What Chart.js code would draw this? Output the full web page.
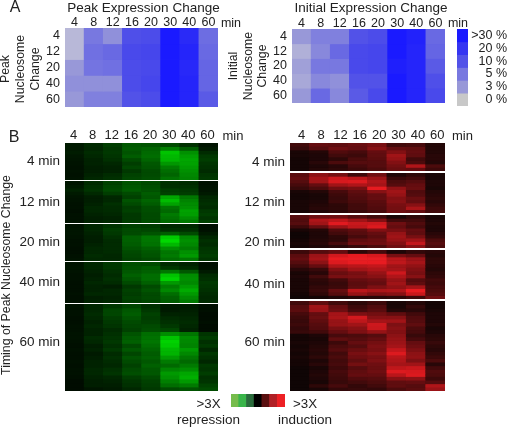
<!DOCTYPE html>
<html>
<head>
<meta charset="utf-8">
<script src="https://cdn.jsdelivr.net/npm/chart.js@4"></script>
<style>
  html, body { margin: 0; padding: 0; background: #fff; width: 507px; height: 427px; overflow: hidden; }
  #page { position: relative; width: 507px; height: 427px; filter: blur(0.35px); }
  canvas { position: absolute; }
  .t { position: absolute; white-space: nowrap; color: #222; font-family: "Liberation Sans", Arial, sans-serif; transform: translate(-50%, -50%); }
  .v { transform: translate(-50%, -50%) rotate(-90deg); }
</style>
</head>
<body>
<div id="page"></div>
<script>
const times = ["4", "8", "12", "16", "20", "30", "40", "60"];
const nucleosomeTimes = ["4", "12", "20", "40", "60"];

// panel A, percent of genes changed
const peakExpression = [
  [1, 5, 3.5, 11, 12, 30, 24, 6.5],
  [1, 6, 7, 13, 14, 30, 26, 7],
  [3, 5.5, 6, 12, 13, 30, 25, 7.5],
  [3.5, 3.5, 3.5, 12, 14, 30, 26, 7.5],
  [3, 4.5, 4.5, 10, 12, 30, 26, 9]
];
const initialExpression = [
  [3, 4.5, 4.5, 10, 12, 30, 27, 7],
  [1.5, 4, 7, 13, 14, 30, 26, 7.5],
  [2.5, 5, 5, 13, 14, 28, 26, 9],
  [2, 4, 3.5, 10, 10, 30, 26, 11],
  [3, 7, 4, 9, 13, 30, 26, 13]
];
const percentLabels = [">30 %", "20 %", "10 %", "5 %", "3 %", "0 %"];
const percentValues = [30, 20, 10, 5, 3, 0];

// panel B, repression strength per gene row (0-100)
const green4 = [
  [8,15,24,36,34,30,18,5],[8,14,22,38,42,55,38,8],[9,16,22,34,44,85,62,16],[7,14,20,38,46,80,68,22],
  [6,12,18,30,42,78,72,24],[5,12,14,24,36,65,70,20],[4,10,12,28,34,52,66,18],[5,10,12,22,30,46,62,16],
  [4,12,16,26,30,42,58,20],[5,14,18,28,32,48,56,22]
];
const green12 = [
  [6,16,26,34,30,18,16,4],[8,18,28,36,32,18,18,5],[12,20,30,38,34,24,22,6],[8,15,24,30,38,26,24,8],
  [6,10,14,26,36,72,50,14],[5,10,14,34,42,82,56,16],[4,12,18,30,38,70,60,18],[4,14,16,24,32,48,62,16],
  [3,14,16,26,32,44,70,22],[4,12,14,22,30,52,68,24],[4,10,12,22,30,48,60,20],[5,12,14,24,32,44,52,26]
];
const green20 = [
  [5,14,20,26,24,14,14,3],[6,14,24,30,28,18,18,4],[6,12,22,30,34,38,30,8],[5,10,18,40,50,88,58,14],
  [4,10,16,40,50,95,62,18],[4,12,16,38,48,80,58,16],[3,14,16,34,40,60,52,20],[3,14,16,30,36,50,62,22],
  [4,16,14,28,34,52,66,24],[5,14,14,26,30,46,50,20]
];
const green40 = [
  [5,14,22,32,30,16,12,3],[6,14,22,34,38,22,16,4],[5,12,18,36,40,50,36,8],[4,10,16,40,46,85,60,16],
  [4,12,18,36,46,92,62,18],[3,14,16,30,40,66,58,22],[3,12,10,22,30,52,66,20],[3,12,14,26,34,58,74,18],
  [4,14,14,24,30,46,66,16],[3,10,12,26,30,40,58,14],[4,12,14,24,28,38,52,16]
];
const green60 = [
  [5,14,22,28,18,8,8,3],[4,14,28,36,22,8,10,3],[4,16,28,38,26,12,12,2],[3,14,24,34,24,16,14,2],
  [3,12,22,30,26,18,16,3],[4,14,20,28,30,22,14,2],[4,12,16,26,32,28,12,2],[5,12,18,34,46,60,50,20],
  [5,16,20,38,48,85,60,24],[4,14,22,40,50,92,58,18],[3,10,18,30,46,88,56,22],[4,12,22,36,42,80,66,14],
  [3,8,16,28,38,78,58,22],[3,10,18,34,40,66,50,18],[4,12,16,30,36,52,44,14],[3,12,14,26,40,44,52,22],
  [4,14,18,30,36,56,60,20],[4,14,20,32,36,66,72,24],[3,12,14,24,30,62,76,18],[2,10,12,20,26,54,66,20],
  [2,10,10,18,24,46,52,26],[2,6,8,14,22,30,34,30]
];

// panel B, induction strength per gene row (0-100)
const red4 = [
  [22,36,34,38,44,22,24,10],[18,30,40,36,50,36,34,10],[6,10,28,24,36,48,36,10],[6,8,22,20,34,60,34,12],
  [4,8,14,26,32,56,22,12],[4,12,26,30,30,48,26,10],[4,8,12,24,30,42,66,26],[4,10,14,20,26,38,36,20]
];
const red12 = [
  [32,52,42,20,40,8,14,6],[36,62,78,72,58,18,22,6],[30,60,82,84,66,26,30,8],[24,36,60,66,62,30,36,8],
  [18,26,40,44,88,54,38,6],[6,10,24,34,50,60,28,10],[4,6,20,30,36,56,30,12],[4,6,18,28,36,48,38,14],
  [6,8,20,26,32,50,36,12],[6,10,14,22,30,44,50,16],[6,12,14,22,28,42,64,20],[4,8,12,18,24,40,36,22]
];
const red20 = [
  [30,40,40,30,22,6,14,6],[28,66,72,60,48,22,22,8],[30,60,86,76,78,40,28,10],[20,36,58,72,84,36,24,8],
  [6,10,28,34,48,44,36,8],[2,8,22,30,36,56,34,12],[2,8,14,24,32,60,44,16],[4,10,14,34,38,56,60,26],
  [6,12,24,40,40,48,74,30],[4,8,12,18,26,40,50,26]
];
const red40 = [
  [20,30,36,14,24,8,16,12],[32,58,80,88,82,44,36,10],[36,62,92,100,96,70,58,14],[30,52,84,92,90,72,62,14],
  [22,36,66,70,74,60,54,12],[12,18,48,60,66,62,48,10],[6,12,38,44,56,78,44,14],[8,22,44,46,50,66,50,16],
  [6,14,22,36,40,56,30,22],[6,12,18,32,36,60,34,20],[6,16,20,34,46,54,62,24],[6,18,36,70,64,66,92,26],
  [4,14,30,56,46,50,76,30],[2,4,8,10,12,14,20,40]
];
const red60 = [
  [22,34,22,14,20,6,10,4],[30,60,36,20,28,6,16,4],[32,58,40,24,32,10,12,6],[24,36,62,46,42,34,22,8],
  [20,38,64,80,50,50,28,8],[18,34,56,72,62,60,30,8],[20,30,56,60,78,46,34,10],[16,28,44,50,76,50,26,6],
  [18,22,36,46,56,48,24,8],[4,8,24,26,30,52,18,12],[4,6,34,30,36,56,24,14],[6,8,20,36,42,58,36,18],
  [4,10,26,30,46,62,40,14],[6,12,30,38,44,74,46,12],[4,10,22,44,50,84,52,16],[6,14,26,40,44,70,54,20],
  [4,8,22,34,46,66,46,26],[4,12,24,42,40,62,60,12],[2,6,20,30,38,72,76,22],[2,8,24,34,40,84,82,28],
  [2,10,22,36,36,70,84,26],[2,8,20,28,30,50,52,20],[2,6,18,22,26,34,36,30],[2,14,24,16,22,34,30,66],
  [2,6,16,18,16,26,32,58]
];

const foldScale = [">3X repression", "", "", "0", "", "", ">3X induction"];
const foldColors = ["#76bc4c", "#39b54a", "#2a6b3c", "#000000", "#5a1010", "#b02025", "#ed2024"];

const FONT = '"Liberation Sans", Arial, sans-serif';
const INK = "#222";
const page = document.getElementById("page");

const blueStops = [[0, [200,200,200]], [1, [184,184,216]], [3, [152,152,216]], [5, [120,120,224]], [10, [82,82,232]], [20, [53,53,242]], [30, [26,26,255]]];
function blue(v) {
  for (let i = 1; i < blueStops.length; i++) {
    const [p1, c1] = blueStops[i];
    const [p0, c0] = blueStops[i - 1];
    if (v <= p1) {
      const f = (v - p0) / (p1 - p0);
      return `rgb(${c0.map((c, k) => Math.round(c + (c1[k] - c) * f)).join(",")})`;
    }
  }
  return "rgb(26,26,255)";
}
const green = (v) => `rgb(0,${Math.round(8 + v * 2.2)},0)`;
const red = (v) => `rgb(${Math.min(232, Math.round(10 + v * 2.5))},${Math.round(4 + v * 0.26)},${Math.round(4 + v * 0.32)})`;

// paints the plot area first so stacked bars show no pale seams
const basePaint = {
  id: "basePaint",
  beforeDatasetsDraw(chart, args, opts) {
    const a = chart.chartArea;
    chart.ctx.fillStyle = opts.color || "#000";
    chart.ctx.fillRect(a.left, a.top, a.right - a.left, a.bottom - a.top);
  }
};

function addCanvas(left, top, w, h) {
  const c = document.createElement("canvas");
  c.width = w; c.height = h;
  c.style.left = left + "px"; c.style.top = top + "px";
  c.style.width = w + "px"; c.style.height = h + "px";
  page.appendChild(c);
  return c;
}

// one stacked bar per row; each row is a dataset of unit-height cells
function heat(rows, colorFn, box, opt) {
  const axisH = opt.xLabels ? 19 : 0;
  const c = addCanvas(box.x - opt.gutter, box.y - axisH, box.w + opt.gutter, box.h + axisH);
  const n = rows.length;
  new Chart(c, {
    type: "bar",
    plugins: [basePaint],
    data: {
      labels: times,
      datasets: rows.map((row) => ({
        data: row.map(() => 1),
        backgroundColor: row.map(colorFn),
        borderWidth: 0,
        barPercentage: 1,
        categoryPercentage: 1
      }))
    },
    options: {
      responsive: false,
      animation: false,
      layout: { padding: 0 },
      plugins: { legend: { display: false }, tooltip: { enabled: false }, basePaint: { color: opt.base } },
      scales: {
        x: {
          stacked: true,
          position: "top",
          grid: { display: false, drawTicks: false },
          border: { display: false },
          afterFit: (s) => { s.height = axisH; s.paddingLeft = 0; s.paddingRight = 0; },
          ticks: {
            display: !!opt.xLabels,
            autoSkip: false,
            maxRotation: 0,
            padding: opt.tickPad === undefined ? -2 : opt.tickPad,
            labelOffset: opt.labelOffset || 0,
            color: INK,
            font: { family: FONT, size: opt.tickSize || 12.5 }
          }
        },
        y: {
          stacked: true,
          reverse: true,
          min: 0,
          max: n,
          grid: { display: false, drawTicks: false },
          border: { display: false },
          afterFit: (s) => { s.width = opt.gutter; s.paddingTop = 0; s.paddingBottom = 0; },
          afterBuildTicks: (s) => {
            s.ticks = opt.rowLabels
              ? opt.rowLabels.map((_, i) => ({ value: i + 0.5 }))
              : [{ value: n * opt.labelAt }];
          },
          ticks: {
            autoSkip: false,
            padding: 5,
            color: INK,
            font: { family: FONT, size: opt.rowLabels ? 12.5 : 13.5 },
            callback: (v, i) => (opt.rowLabels ? opt.rowLabels[i] : opt.label)
          }
        }
      }
    }
  });
}

function percentLegend(box) {
  const axisW = 39;
  const c = addCanvas(box.x, box.y, box.w + axisW, box.h);
  new Chart(c, {
    type: "bar",
    plugins: [basePaint],
    data: {
      labels: ["pct"],
      datasets: percentValues.map((v) => ({
        data: [1],
        backgroundColor: blue(v),
        borderWidth: 0,
        barPercentage: 1,
        categoryPercentage: 1
      }))
    },
    options: {
      responsive: false,
      animation: false,
      plugins: { legend: { display: false }, tooltip: { enabled: false }, basePaint: { color: "#5858e8" } },
      scales: {
        x: { stacked: true, display: false },
        y: {
          stacked: true,
          position: "right",
          reverse: true,
          min: 0,
          max: percentValues.length,
          grid: { display: false, drawTicks: false },
          border: { display: false },
          afterFit: (s) => { s.width = axisW; s.paddingTop = 0; s.paddingBottom = 0; },
          afterBuildTicks: (s) => { s.ticks = percentLabels.map((_, i) => ({ value: i + 0.5 })); },
          ticks: {
            autoSkip: false,
            padding: 1,
            crossAlign: "far",
            color: INK,
            font: { family: FONT, size: 12.5 },
            callback: (v, i) => percentLabels[i]
          }
        }
      }
    }
  });
}

function foldBar(box) {
  const c = addCanvas(box.x, box.y, box.w, box.h);
  new Chart(c, {
    type: "bar",
    data: {
      labels: foldScale,
      datasets: [{ data: foldScale.map(() => 1), backgroundColor: foldColors, borderWidth: 0, barPercentage: 1, categoryPercentage: 1 }]
    },
    options: {
      responsive: false,
      animation: false,
      plugins: { legend: { display: false }, tooltip: { enabled: false } },
      scales: { x: { display: false }, y: { display: false, min: 0, max: 1 } }
    }
  });
}

function text(s, x, y, size, vertical) {
  const d = document.createElement("div");
  d.className = vertical ? "t v" : "t";
  d.textContent = s;
  d.style.left = x + "px";
  d.style.top = y + "px";
  d.style.fontSize = size + "px";
  page.appendChild(d);
}

// panel A
heat(peakExpression, blue, { x: 65, y: 28, w: 153, h: 79 }, { gutter: 65, xLabels: true, rowLabels: nucleosomeTimes, base: "#5858e8" });
heat(initialExpression, blue, { x: 292, y: 29, w: 153, h: 74 }, { gutter: 22, xLabels: true, rowLabels: nucleosomeTimes, base: "#5858e8" });
percentLegend({ x: 457, y: 29, w: 11, h: 77 });

// panel B, repression
const baseDark = "#021002";
heat(green4, green, { x: 65, y: 143, w: 153, h: 37 }, { gutter: 65, xLabels: true, tickSize: 13, tickPad: 0, labelOffset: -1, label: "4 min", labelAt: 0.5, base: baseDark });
heat(green12, green, { x: 65, y: 181, w: 153, h: 42 }, { gutter: 65, label: "12 min", labelAt: 0.5, base: baseDark });
heat(green20, green, { x: 65, y: 224, w: 153, h: 37 }, { gutter: 65, label: "20 min", labelAt: 0.5, base: baseDark });
heat(green40, green, { x: 65, y: 262, w: 153, h: 41 }, { gutter: 65, label: "40 min", labelAt: 0.5, base: baseDark });
heat(green60, green, { x: 65, y: 304, w: 153, h: 87 }, { gutter: 65, label: "60 min", labelAt: 0.44, base: baseDark });

// panel B, induction
const baseRed = "#140404";
heat(red4, red, { x: 290, y: 143, w: 155, h: 28 }, { gutter: 60, xLabels: true, tickSize: 13, tickPad: 0, labelOffset: 2, label: "4 min", labelAt: 0.68, base: baseRed });
heat(red12, red, { x: 290, y: 173, w: 155, h: 40 }, { gutter: 60, label: "12 min", labelAt: 0.72, base: baseRed });
heat(red20, red, { x: 290, y: 215, w: 155, h: 33 }, { gutter: 60, label: "20 min", labelAt: 0.82, base: baseRed });
heat(red40, red, { x: 290, y: 250, w: 155, h: 49 }, { gutter: 60, label: "40 min", labelAt: 0.69, base: baseRed });
heat(red60, red, { x: 290, y: 301, w: 155, h: 90 }, { gutter: 60, label: "60 min", labelAt: 0.46, base: baseRed });

foldBar({ x: 231, y: 394, w: 54, h: 13 });

// free text around the panels
text("A", 15, 7, 16);
text("B", 14, 137, 16);
text("Peak Expression Change", 143.5, 6.5, 13.5);
text("Initial Expression Change", 371, 7, 13.5);
text("min", 231, 22.5, 12.5);
text("min", 458, 22.5, 12.5);
text("min", 233, 135, 13);
text("min", 462.5, 135, 13);
text("Peak", 4.5, 69, 12.3, true);
text("Nucleosome", 20, 69, 12.3, true);
text("Change", 35, 69, 12.3, true);
text("Initial", 233, 66, 12.3, true);
text("Nucleosome", 247.5, 66, 12.3, true);
text("Change", 262, 66, 12.3, true);
text("Timing of Peak Nucleosome Change", 6, 275, 12.3, true);
text(">3X", 208.5, 402.5, 13.3);
text(">3X", 305, 402.5, 13.3);
text("repression", 208.5, 419, 13.5);
text("induction", 305, 419, 13.5);
</script>
</body>
</html>
